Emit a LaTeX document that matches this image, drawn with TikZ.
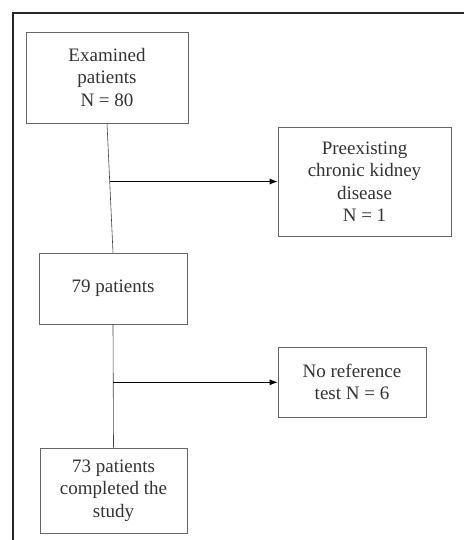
\documentclass[tikz,border=0pt]{standalone}
\usepackage{fontspec}
\setmainfont{Liberation Serif}
\usetikzlibrary{arrows.meta,calc}
\begin{document}
\begin{tikzpicture}[x=1pt, y=-1pt,
    flowbox/.style={draw=black!60, line width=0.6pt, align=center, inner sep=0pt,
      text=black!80, font=\fontsize{19}{22.5}\selectfont},
    link/.style={black!75, line width=0.6pt},
    arr/.style={black, line width=1pt, -{Latex[length=8pt, width=6pt]}}]
  \useasboundingbox (0, 0) rectangle (464, 540);
  \draw[line width=2.8pt, black!85] (13, 540) -- (13, 13) -- (464, 13);
  \node[flowbox, minimum width=162, minimum height=91] (ex) at (107, 77.5)
    {Examined\\patients\\N = 80};
  \node[flowbox, minimum width=173, minimum height=109] (pre) at (364.5, 181.5)
    {Preexisting\\chronic kidney\\disease\\N = 1};
  \node[flowbox, minimum width=148, minimum height=71] (p79) at (113, 288.5)
    {79 patients};
  \node[flowbox, minimum width=148, minimum height=70] (nr) at (352, 382)
    {No reference\\test N = 6};
  \node[flowbox, minimum width=147, minimum height=85] (p73) at (113.5, 490.5)
    {73 patients\\completed the\\study};
  \draw[link] (ex.south) -- (p79.north);
  \draw[link] (p79.south) -- (p73.north);
  \coordinate (s1) at ($(ex.south)!0.45!(p79.north)$);
  \coordinate (s2) at ($(p79.south)!0.47!(p73.north)$);
  \draw[arr] (s1) -- (s1 -| pre.west);
  \draw[arr] (s2) -- (s2 -| nr.west);
\end{tikzpicture}
\end{document}
